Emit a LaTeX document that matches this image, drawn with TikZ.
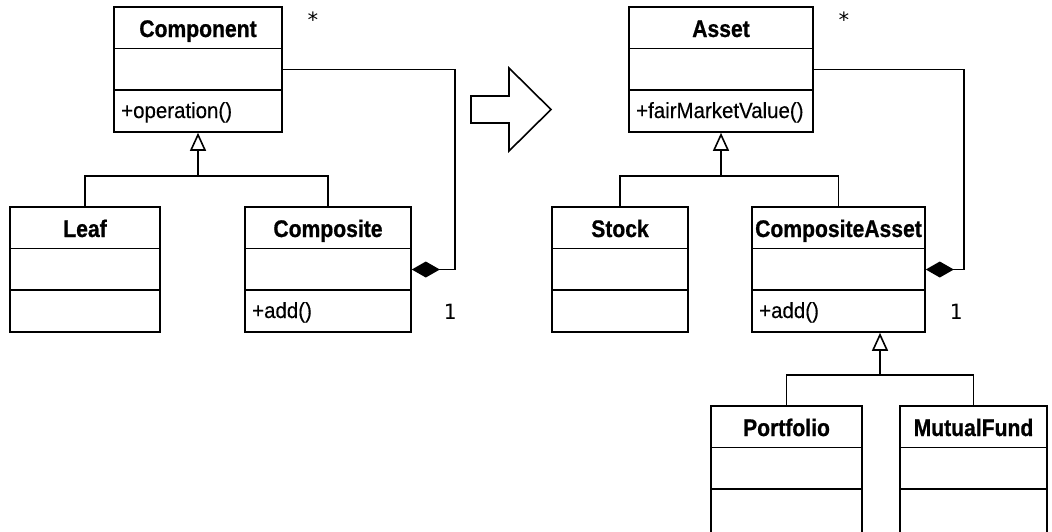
\documentclass[tikz,border=0pt]{standalone}
\usepackage{fontspec}
\setmainfont{Liberation Sans}
\newfontfamily\titlefnt[FakeStretch=0.88, FakeBold=0.8]{Liberation Sans Bold}
\newfontfamily\methodfnt[FakeStretch=0.93, FakeBold=0.3]{Liberation Sans}
\newfontfamily\monofnt{DejaVu Sans Mono}
\usetikzlibrary{arrows.meta,fit}
\tikzset{
  ln/.style={line width=1.6pt, draw=black},
  classbox/.style={ln, inner sep=0pt, fill=white},
  titletext/.style={font=\titlefnt\fontsize{24}{27}\selectfont, inner sep=0pt, anchor=base},
  methodtext/.style={font=\methodfnt\fontsize{22}{25}\selectfont, inner sep=0pt, anchor=base west},
  multtext/.style={font=\monofnt\fontsize{21}{24}\selectfont, inner sep=0pt, anchor=base},
  gen/.style={ln, -{Triangle[open, width=16pt, length=18pt, line width=1.6pt]}},
  comp/.style={ln, {Diamond[width=16pt, length=28pt]}-},
  bigarrow/.style={ln, line join=miter}
}
% #1 name, #2 x left, #3 x right, #4 y top, #5 title, #6 method, #7 height
\newcommand{\umlclass}[7]{%
  \coordinate (#1-nw) at (#2,#4);
  \coordinate (#1-se) at (#3,#4+#7);
  \node[classbox, fit=(#1-nw)(#1-se)] (#1) {};
  \draw[ln] (#2,#4+41.5) -- (#3,#4+41.5);
  \draw[ln] (#2,#4+83) -- (#3,#4+83);
  \node[titletext] (#1-title) at ({(#2+#3)/2},#4+30) {#5};
  \node[methodtext] (#1-method) at (#2+7,#4+111) {#6};
}
\begin{document}
\begin{tikzpicture}[x=1pt, y=-1pt]
\useasboundingbox (0,0) rectangle (1052,531);

% left diagram
\umlclass{component}{114}{282}{7}{Component}{+operation()}{125}
\umlclass{leaf}{10}{160}{207}{Leaf}{}{125}
\umlclass{composite}{245}{411}{207}{Composite}{+add()}{125}

\coordinate (j1) at (198,176);
\draw[ln] (leaf.north) |- (j1) -| (composite.north);
\draw[gen] (j1) -- (component.south);
\draw[comp] (composite.east) -- ++(43,0) |- (component.east);
\node[multtext] (s1) at (313,27) {*};
\node[multtext] (o1) at (450,319) {1};

% big arrow
\draw[bigarrow] (471,96) -- (509,96) -- (509,68) -- (551,109.5) -- (509,151) -- (509,123) -- (471,123) -- cycle;

% right diagram
\umlclass{asset}{629}{813}{7}{Asset}{+fairMarketValue()}{125}
\umlclass{stock}{552}{688}{207}{Stock}{}{125}
\umlclass{casset}{752}{925}{207}{CompositeAsset}{+add()}{125}
\umlclass{portfolio}{711}{862}{406}{Portfolio}{}{130}
\umlclass{mfund}{900}{1047}{406}{MutualFund}{}{130}

\coordinate (j2) at (721,176);
\draw[ln] (stock.north) |- (j2) -| (casset.north);
\draw[gen] (j2) -- (asset.south);
\draw[comp] (casset.east) -- ++(38,0) |- (asset.east);
\node[multtext] (s2) at (844,27) {*};
\node[multtext] (o2) at (956,319) {1};

\coordinate (j3) at (880,375);
\draw[ln] (portfolio.north) |- (j3) -| (mfund.north);
\draw[gen] (j3) -- (j3 |- casset.south);
\end{tikzpicture}
\end{document}
